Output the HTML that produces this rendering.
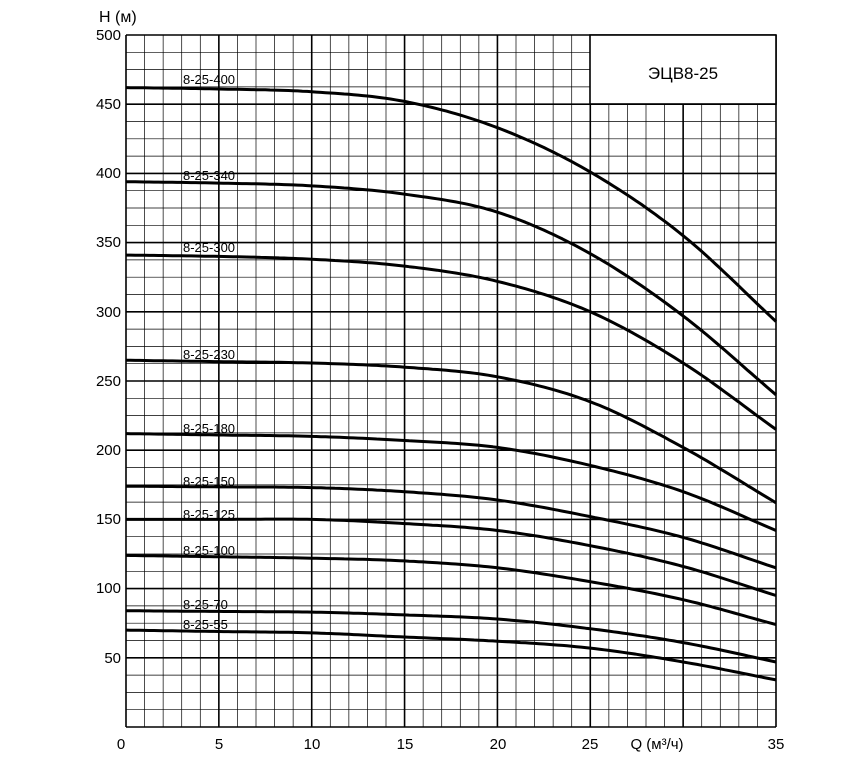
<!DOCTYPE html>
<html><head><meta charset="utf-8"><style>
body{margin:0;background:#fff;}
svg{display:block;font-family:"Liberation Sans",Arial,sans-serif;}
</style></head><body>
<svg id="s" width="861" height="768" viewBox="0 0 861 768">
<g id="grid"></g>
<rect x="590" y="35" width="186" height="69" fill="#fff" stroke="#000" stroke-width="1.6"/>
<text x="683" y="79" font-size="17" text-anchor="middle">ЭЦВ8-25</text>
<g id="curves"></g>
<g font-size="15" fill="#000">
<text x="99" y="22" font-size="16">H (м)</text>
<text x="121" y="40" text-anchor="end">500</text>
<text x="121" y="109" text-anchor="end">450</text>
<text x="121" y="178" text-anchor="end">400</text>
<text x="121" y="247" text-anchor="end">350</text>
<text x="121" y="317" text-anchor="end">300</text>
<text x="121" y="386" text-anchor="end">250</text>
<text x="121" y="455" text-anchor="end">200</text>
<text x="121" y="524" text-anchor="end">150</text>
<text x="121" y="593" text-anchor="end">100</text>
<text x="121" y="663" text-anchor="end">50</text>
<text x="121" y="749" text-anchor="middle">0</text>
<text x="219" y="749" text-anchor="middle">5</text>
<text x="312" y="749" text-anchor="middle">10</text>
<text x="405" y="749" text-anchor="middle">15</text>
<text x="498" y="749" text-anchor="middle">20</text>
<text x="590" y="749" text-anchor="middle">25</text>
<text x="657" y="749" text-anchor="middle">Q (м³/ч)</text>
<text x="776" y="749" text-anchor="middle">35</text>
</g>
<g font-size="13" id="labels">
<text x="183" y="84">8-25-400</text>
<text x="183" y="180">8-25-340</text>
<text x="183" y="252">8-25-300</text>
<text x="183" y="359">8-25-230</text>
<text x="183" y="433">8-25-180</text>
<text x="183" y="486">8-25-150</text>
<text x="183" y="519">8-25-125</text>
<text x="183" y="555">8-25-100</text>
<text x="183" y="609">8-25-70</text>
<text x="183" y="629">8-25-55</text>
</g>
</svg>
<script>
var L=126,R=776,T=35,B=727;
function X(q){return L+(R-L)*q/35}function Y(h){return B-(B-T)*h/500}
var g=document.getElementById('grid'),h='';
for(var i=0;i<=35;i++){var x=X(i),w=(i%5==0)?1.6:0.7;h+='<line x1="'+x+'" y1="'+T+'" x2="'+x+'" y2="'+B+'" stroke="#000" stroke-width="'+w+'"/>';}
for(var j=0;j<=40;j++){var y=Y(j*12.5),w=(j%4==0)?1.6:0.7;h+='<line x1="'+L+'" y1="'+y+'" x2="'+R+'" y2="'+y+'" stroke="#000" stroke-width="'+w+'"/>';}
g.innerHTML=h;
var D=[[462,461,459,452,433,401,355,293],[394,393,391,385,372,342,297,240],[341,340,338,333,322,300,263,215],[265,264,263,260,253,235,202,162],[212,211,210,207,202,189,170,142],[174,173.5,173,170,164,152,137,115],[150,150,150,147,142,131,116,95],[124,123,122,120,115,105,92,74],[84,83.5,83,81,78,71,61,47],[70,69,68,65,62,57,47,34]];
function interp(d,q){var k=Math.min(Math.floor(q/5),6);var t=(q-5*k)/5;
 var p1=d[k],p2=d[k+1],p0=k>0?d[k-1]:2*p1-p2,p3=k<6?d[k+2]:2*p2-p1;
 return 0.5*((2*p1)+(-p0+p2)*t+(2*p0-5*p1+4*p2-p3)*t*t+(-p0+3*p1-3*p2+p3)*t*t*t);}
var c='';
D.forEach(function(d){var pts=[];for(var q=0;q<=35.001;q+=0.25)pts.push(X(q).toFixed(1)+','+Y(interp(d,Math.min(q,35))).toFixed(1));
c+='<polyline points="'+pts.join(' ')+'" fill="none" stroke="#000" stroke-width="3" stroke-linejoin="round"/>';});
document.getElementById('curves').innerHTML=c;
</script>
</body></html>
